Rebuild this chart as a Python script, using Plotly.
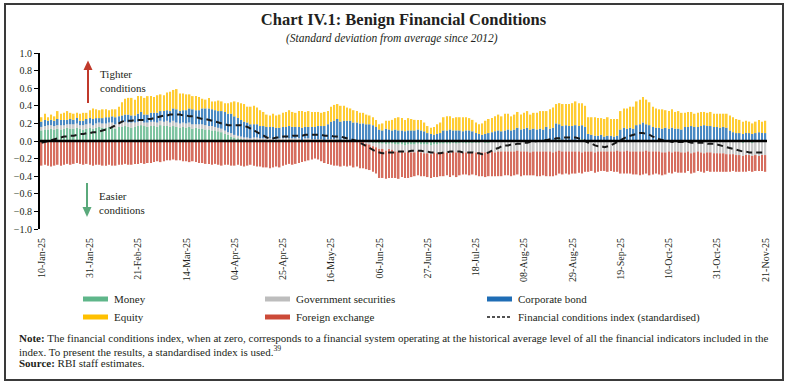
import pandas as pd
import plotly.graph_objects as go

# ---------------- data ----------------
DATES = [d.strftime("%Y-%m-%d") for d in pd.bdate_range("2025-01-10", "2025-11-21")]
TICK_LABELS = ["10-Jan-25", "31-Jan-25", "21-Feb-25", "14-Mar-25", "04-Apr-25", "25-Apr-25",
               "16-May-25", "06-Jun-25", "27-Jun-25", "18-Jul-25", "08-Aug-25", "29-Aug-25",
               "19-Sep-25", "10-Oct-25", "31-Oct-25", "21-Nov-25"]

MONEY = [
    .12, .13, .13, .14, .13,  .14, .13, .14, .15, .14,  .14, .15, .14, .13, .14,
    .15, .14, .15, .16, .15,  .15, .16, .15, .14, .16,  .16, .17, .16, .15, .16,
    .17, .18, .17, .16, .17,  .17, .16, .18, .17, .17,  .16, .17, .16, .15, .16,
    .15, .16, .14, .15, .14,  .14, .13, .13, .12, .12,  .11, .10, .08, .07, .05,
    .04, .03, .02, .02, .01,  .01, .02, .01, .01, .01,  .01, .01, .00, .01, .01,
    .01, .01, .02, .01, .01,  .01, .00, .01, .01, .01,  .01, .01, .01, .00, .01,
    .01, .01, .02, .01, .01,  .01, .01, .00, .00, .00,  .00, -.01, -.01, -.02, -.02,
    -.03, -.03, -.04, -.03, -.03,  -.04, -.04, -.04, -.05, -.04,  -.04, -.04, -.03, -.04, -.04,
    -.04, -.05, -.04, -.04, -.03,  -.03, -.03, -.03, -.02, -.03,  -.02, -.02, -.03, -.02, -.02,
    -.02, -.02, -.01, -.02, -.02,  -.01, -.01, -.01, -.01, .00,  .00, .00, .00, .01, .00,
    .01, .01, .00, .01, .01,  .01, .01, .02, .01, .01,  .01, .02, .01, .01, .01,
    .01, .01, .01, .02, .01,  .01, .01, .00, .01, .01,  .00, .00, .01, .00, .00,
    .00, .01, .00, .00, .00,  .00, .00, .01, .00, .00,  .00, .00, .00, -.01, .00,
    .00, -.01, .00, .00, -.01,  -.01, .00, -.01, -.01, .00,  .00, -.01, -.01, .00, -.01,
    -.01, -.01, .00, -.01, -.01,  -.01, -.01, -.01, -.02, -.01,  -.01, -.02, -.01, -.01, -.01,
    -.01,
]

GSEC = [
    .04, .04, .05, .04, .04,  .04, .05, .04, .04, .05,  .05, .05, .04, .05, .05,
    .05, .04, .05, .05, .05,  .05, .05, .06, .05, .05,  .05, .05, .05, .06, .05,
    .05, .05, .04, .05, .05,  .05, .05, .05, .05, .06,  .05, .06, .05, .05, .05,
    .05, .05, .05, .04, .05,  .05, .05, .04, .05, .04,  .04, .04, .04, .03, .04,
    .03, .03, .03, .02, .03,  .02, .02, .03, .02, .02,  .02, .02, .02, .01, .02,
    .02, .02, .01, .02, .02,  .02, .01, .02, .02, .01,  .01, .01, .01, .01, .01,
    .01, .01, .01, .00, .01,  .01, .00, .00, .00, -.01,  -.01, -.02, -.03, -.04, -.05,
    -.06, -.06, -.07, -.06, -.07,  -.08, -.08, -.07, -.08, -.08,  -.09, -.09, -.08, -.09, -.10,
    -.10, -.10, -.09, -.10, -.10,  -.10, -.10, -.11, -.10, -.10,  -.11, -.11, -.10, -.11, -.11,
    -.11, -.11, -.12, -.11, -.11,  -.11, -.12, -.11, -.11, -.12,  -.12, -.12, -.12, -.11, -.12,
    -.12, -.12, -.13, -.12, -.12,  -.12, -.12, -.12, -.12, -.13,  -.12, -.11, -.12, -.12, -.12,
    -.12, -.12, -.12, -.13, -.12,  -.12, -.12, -.13, -.12, -.12,  -.12, -.12, -.12, -.12, -.11,
    -.12, -.12, -.11, -.12, -.12,  -.12, -.12, -.12, -.11, -.12,  -.12, -.12, -.12, -.12, -.13,
    -.12, -.12, -.12, -.12, -.12,  -.12, -.12, -.13, -.12, -.12,  -.13, -.13, -.12, -.13, -.13,
    -.13, -.13, -.14, -.14, -.14,  -.14, -.15, -.15, -.15, -.15,  -.15, -.15, -.15, -.16, -.15,
    -.15,
]

CORP_BOND = [
    .06, .07, .05, .06, .06,  .07, .06, .06, .05, .06,  .05, .06, .05, .05, .06,
    .06, .07, .06, .05, .06,  .07, .06, .07, .08, .07,  .08, .08, .09, .08, .08,
    .09, .10, .09, .09, .10,  .10, .11, .11, .12, .12,  .13, .14, .15, .14, .14,
    .15, .16, .17, .16, .16,  .18, .19, .20, .19, .19,  .19, .20, .21, .21, .22,
    .21, .20, .19, .18, .17,  .16, .15, .15, .14, .14,  .13, .13, .14, .13, .12,
    .13, .13, .14, .13, .13,  .13, .14, .13, .13, .14,  .14, .15, .15, .16, .17,
    .20, .21, .22, .21, .21,  .21, .22, .21, .21, .20,  .20, .19, .19, .18, .16,
    .13, .12, .14, .13, .12,  .13, .12, .12, .11, .12,  .12, .12, .13, .12, .11,
    .09, .08, .07, .08, .09,  .12, .12, .13, .12, .12,  .12, .11, .12, .12, .11,
    .09, .08, .07, .08, .09,  .10, .11, .12, .11, .12,  .13, .12, .13, .14, .13,
    .13, .14, .13, .13, .12,  .13, .12, .14, .13, .14,  .19, .17, .16, .17, .16,
    .16, .17, .16, .16, .15,  .07, .06, .06, .05, .06,  .05, .06, .05, .05, .06,
    .13, .14, .14, .15, .14,  .18, .19, .20, .19, .18,  .16, .15, .15, .14, .15,
    .14, .15, .14, .14, .13,  .16, .16, .17, .16, .16,  .17, .18, .17, .17, .16,
    .16, .15, .16, .15, .12,  .10, .09, .09, .08, .09,  .09, .08, .09, .10, .09,
    .09,
]

EQUITY = [
    .05, .07, .04, .06, .05,  .09, .07, .08, .10, .07,  .07, .06, .08, .09, .07,
    .09, .12, .10, .09, .10,  .09, .08, .08, .09, .11,  .15, .18, .19, .20, .18,
    .20, .18, .19, .21, .19,  .18, .20, .19, .18, .20,  .22, .21, .23, .20, .19,
    .18, .16, .15, .16, .15,  .11, .10, .12, .09, .10,  .12, .11, .10, .12, .13,
    .17, .18, .19, .20, .18,  .20, .21, .19, .18, .16,  .14, .13, .15, .14, .15,
    .16, .17, .18, .17, .16,  .18, .19, .17, .18, .17,  .17, .16, .15, .16, .15,
    .17, .18, .17, .18, .17,  .15, .14, .14, .13, .12,  .12, .11, .10, .09, .08,
    .06, .08, .09, .10, .12,  .13, .15, .14, .13, .14,  .13, .12, .11, .12, .10,
    .08, .07, .09, .11, .12,  .15, .16, .15, .14, .15,  .15, .16, .15, .14, .13,
    .12, .11, .13, .15, .16,  .16, .17, .18, .17, .19,  .18, .16, .17, .18, .17,
    .18, .19, .17, .18, .19,  .20, .21, .18, .22, .23,  .22, .24, .25, .24, .25,
    .26, .27, .26, .25, .24,  .19, .20, .21, .20, .19,  .20, .21, .19, .20, .19,
    .21, .22, .23, .24, .25,  .27, .28, .29, .28, .26,  .23, .22, .21, .22, .20,
    .20, .21, .19, .20, .19,  .16, .17, .16, .15, .16,  .16, .15, .15, .16, .15,
    .15, .16, .15, .16, .17,  .17, .16, .15, .14, .14,  .13, .12, .13, .14, .13,
    .14,
]

FOREX = [
    -.28, -.27, -.28, -.29, -.28,  -.27, -.28, -.27, -.26, -.27,  -.26, -.25, -.26, -.27, -.26,
    -.27, -.28, -.27, -.27, -.28,  -.28, -.27, -.28, -.28, -.27,  -.27, -.26, -.27, -.27, -.26,
    -.26, -.25, -.26, -.25, -.25,  -.24, -.23, -.24, -.23, -.22,  -.22, -.21, -.22, -.22, -.23,
    -.23, -.24, -.23, -.24, -.25,  -.25, -.26, -.26, -.27, -.26,  -.27, -.28, -.27, -.27, -.28,
    -.28, -.27, -.28, -.29, -.28,  -.27, -.28, -.29, -.29, -.30,  -.30, -.31, -.30, -.29, -.30,
    -.28, -.27, -.26, -.27, -.26,  -.25, -.24, -.23, -.22, -.21,  -.20, -.21, -.23, -.25, -.26,
    -.27, -.28, -.28, -.29, -.28,  -.29, -.28, -.30, -.29, -.30,  -.30, -.29, -.29, -.29, -.30,
    -.33, -.33, -.32, -.33, -.32,  -.30, -.31, -.30, -.29, -.30,  -.28, -.27, -.28, -.27, -.26,
    -.27, -.27, -.28, -.27, -.27,  -.27, -.26, -.27, -.27, -.28,  -.26, -.25, -.25, -.26, -.25,
    -.26, -.27, -.27, -.28, -.27,  -.28, -.27, -.28, -.28, -.27,  -.27, -.28, -.27, -.27, -.28,
    -.27, -.27, -.26, -.27, -.28,  -.28, -.27, -.28, -.28, -.27,  -.27, -.26, -.26, -.25, -.26,
    -.25, -.25, -.24, -.24, -.23,  -.23, -.22, -.23, -.23, -.22,  -.22, -.23, -.22, -.23, -.24,
    -.25, -.25, -.26, -.25, -.26,  -.26, -.27, -.26, -.26, -.27,  -.26, -.25, -.26, -.26, -.25,
    -.24, -.24, -.23, -.24, -.23,  -.23, -.22, -.23, -.23, -.22,  -.22, -.22, -.21, -.22, -.21,
    -.21, -.21, -.21, -.20, -.20,  -.19, -.19, -.19, -.18, -.19,  -.18, -.18, -.18, -.17, -.18,
    -.19,
]

FCI = [
    -.02, -.01, .00, .01, .02,  .03, .04, .05, .05, .06,  .06, .07, .08, .08, .09,
    .09, .10, .10, .11, .12,  .13, .14, .16, .18, .20,  .22, .23, .23, .23, .24,
    .24, .24, .24, .25, .25,  .26, .27, .28, .29, .29,  .30, .30, .30, .30, .29,
    .29, .28, .28, .27, .26,  .25, .25, .24, .23, .22,  .21, .20, .19, .18, .18,
    .18, .18, .18, .17, .16,  .14, .12, .10, .08, .06,  .04, .03, .03, .04, .04,
    .05, .05, .05, .06, .06,  .06, .06, .07, .07, .07,  .07, .07, .07, .06, .06,
    .06, .05, .05, .05, .04,  .03, .02, .01, .00, -.02,  -.04, -.06, -.08, -.10, -.12,
    -.13, -.14, -.14, -.13, -.13,  -.13, -.12, -.12, -.12, -.12,  -.11, -.11, -.11, -.11, -.12,
    -.12, -.13, -.13, -.14, -.14,  -.13, -.13, -.12, -.12, -.12,  -.12, -.13, -.13, -.13, -.13,
    -.14, -.14, -.15, -.14, -.13,  -.11, -.09, -.08, -.06, -.05,  -.05, -.04, -.04, -.03, -.03,
    -.02, -.02, -.01, -.01, .00,  .00, .01, .01, .02, .02,  .03, .03, .04, .04, .04,
    .04, .04, .03, .02, .00,  -.02, -.03, -.05, -.06, -.06,  -.07, -.06, -.05, -.03, -.01,
    .01, .03, .05, .06, .07,  .08, .09, .09, .08, .07,  .05, .04, .02, .01, .00,
    .00, -.01, -.01, -.01, -.01,  -.01, -.01, -.02, -.02, -.02,  -.02, -.02, -.03, -.03, -.03,
    -.04, -.05, -.06, -.07, -.08,  -.09, -.10, -.11, -.12, -.12,  -.13, -.13, -.13, -.13, -.13,
    -.13,
]

SERIES_NAMES = ["Money", "Government securities", "Corporate bond", "Equity", "Foreign exchange"]
SERIES_COLORS = ["#5fb68a", "#bdbdbd", "#1f6db5", "#ffc000", "#cc4a38"]
FCI_NAME = "Financial conditions index (standardised)"

for arr in (MONEY, GSEC, CORP_BOND, EQUITY, FOREX, FCI):
    assert len(arr) == len(DATES), (len(arr), len(DATES))

# ---------------- figure ----------------
W, H = 786, 385
ML, MR, MT, MB = 40, 19, 53, 156
PW, PH = W - ML - MR, H - MT - MB
FONT = "Liberation Serif"
TXT = "#231f20"


def px(x):
    return (x - ML) / PW


def py(y):
    return (H - MB - y) / PH


fig = go.Figure()
for name, vals, col in zip(SERIES_NAMES, [MONEY, GSEC, CORP_BOND, EQUITY, FOREX], SERIES_COLORS):
    fig.add_trace(go.Bar(x=DATES, y=vals, name=name, marker_color=col, opacity=0.8,
                         marker_line_width=0, showlegend=False))
fig.add_trace(go.Scatter(x=DATES, y=FCI, name=FCI_NAME, mode="lines",
                         line=dict(color="#1a1a1a", width=2, dash="6px,4px"),
                         showlegend=False))

shapes = []
# zero line
shapes.append(dict(type="line", xref="paper", yref="y", x0=0, x1=1, y0=0, y1=0,
                   line=dict(color="black", width=2.5), layer="above"))
# outer frame
shapes.append(dict(type="rect", xref="paper", yref="paper", x0=px(5), x1=px(783),
                   y0=py(380), y1=py(4), line=dict(color="#3a3a3a", width=2)))

# direction arrows (shaft + head)
RED_ARROW, GREEN_ARROW = "#c0392b", "#5aa97b"
shapes.append(dict(type="line", xref="paper", yref="paper", x0=px(88), x1=px(88), y0=py(103), y1=py(69),
                   line=dict(color=RED_ARROW, width=2)))
shapes.append(dict(type="path", xref="paper", yref="paper",
                   path=f"M {px(83.5)},{py(70)} L {px(92.5)},{py(70)} L {px(88)},{py(60.5)} Z",
                   fillcolor=RED_ARROW, line=dict(width=0)))
shapes.append(dict(type="line", xref="paper", yref="paper", x0=px(87), x1=px(87), y0=py(183), y1=py(208),
                   line=dict(color=GREEN_ARROW, width=2)))
shapes.append(dict(type="path", xref="paper", yref="paper",
                   path=f"M {px(82.5)},{py(207)} L {px(91.5)},{py(207)} L {px(87)},{py(217)} Z",
                   fillcolor=GREEN_ARROW, line=dict(width=0)))

annotations = []
# subtitle
annotations.append(dict(text="<i>(Standard deviation from average since 2012)</i>", xref="paper", yref="paper",
                        x=px(392), y=py(38), showarrow=False, xanchor="center", yanchor="middle",
                        font=dict(family=FONT, size=11.5, color=TXT)))
annotations.append(dict(text="Tighter<br>conditions", xref="paper", yref="paper", x=px(98), y=py(81),
                        showarrow=False, xanchor="left", yanchor="middle", align="left",
                        font=dict(family=FONT, size=11, color=TXT)))
annotations.append(dict(text="Easier<br>conditions", xref="paper", yref="paper", x=px(97), y=py(203),
                        showarrow=False, xanchor="left", yanchor="middle", align="left",
                        font=dict(family=FONT, size=11, color=TXT)))

# legend (manual)
legend_items = [
    (SERIES_NAMES[0], SERIES_COLORS[0], 83, 299, "bar"),
    (SERIES_NAMES[1], SERIES_COLORS[1], 265, 299, "bar"),
    (SERIES_NAMES[2], SERIES_COLORS[2], 487, 299, "bar"),
    (SERIES_NAMES[3], SERIES_COLORS[3], 83, 317, "bar"),
    (SERIES_NAMES[4], SERIES_COLORS[4], 265, 317, "bar"),
    (FCI_NAME, "#1a1a1a", 487, 317, "line"),
]
for name, col, x0, yc, kind in legend_items:
    if kind == "bar":
        shapes.append(dict(type="rect", xref="paper", yref="paper", x0=px(x0), x1=px(x0 + 25),
                           y0=py(yc + 2.5), y1=py(yc - 2.5), fillcolor=col, line=dict(width=0)))
    else:
        shapes.append(dict(type="line", xref="paper", yref="paper", x0=px(x0), x1=px(x0 + 24),
                           y0=py(yc), y1=py(yc), line=dict(color=col, width=1.3, dash="3px,2px")))
    annotations.append(dict(text=name, xref="paper", yref="paper", x=px(x0 + 29), y=py(yc),
                            showarrow=False, xanchor="left", yanchor="middle",
                            font=dict(family=FONT, size=11, color=TXT)))

# notes
note_lines = [
    ("<b>Note:</b> The financial conditions index, when at zero, corresponds to a financial system operating at the "
     "historical average level of all the financial indicators included in the", 338),
    ("index. To present the results, a standardised index is used.<sup>39</sup>", 351),
    ("<b>Source:</b> RBI staff estimates.", 363),
]
for t, yc in note_lines:
    annotations.append(dict(text=t, xref="paper", yref="paper", x=px(17), y=py(yc), showarrow=False,
                            xanchor="left", yanchor="middle", align="left",
                            font=dict(family=FONT, size=11, color=TXT)))

fig.update_layout(
    width=W, height=H,
    margin=dict(l=ML, r=MR, t=MT, b=MB, autoexpand=False),
    paper_bgcolor="white", plot_bgcolor="white",
    barmode="relative", bargap=0.5,
    title=dict(text="<b>Chart IV.1: Benign Financial Conditions</b>", x=0.5, xref="paper",
               xanchor="center", y=1 - 19 / H, yanchor="middle",
               font=dict(family=FONT, size=16.5, color=TXT)),
    showlegend=False,
    shapes=shapes, annotations=annotations,
    xaxis=dict(type="category", tickmode="array", tickvals=DATES[::15], ticktext=TICK_LABELS,
               tickangle=-90, ticks="", showline=False, showgrid=False, zeroline=False,
               ticklabelstandoff=6, tickfont=dict(family=FONT, size=10, color=TXT)),
    yaxis=dict(range=[-1, 1], dtick=0.2, tick0=0, tickformat=".1f", showgrid=False, zeroline=False,
               showline=True, linecolor="black", linewidth=2, ticks="outside", ticklen=4,
               tickwidth=1.2, tickcolor="black",
               tickfont=dict(family=FONT, size=10, color=TXT)),
)

fig.write_html("out.html", config={"displayModeBar": False},
               post_script="document.body.style.margin='0px';")
